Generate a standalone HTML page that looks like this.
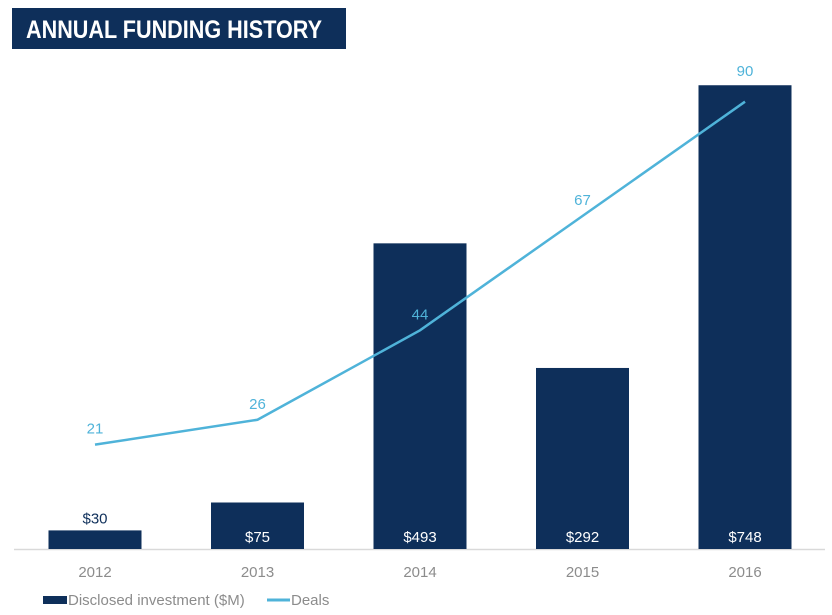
<!DOCTYPE html>
<html><head><meta charset="utf-8"><style>
body{margin:0;background:#fff;width:832px;height:610px;overflow:hidden;font-family:"Liberation Sans",sans-serif}
</style></head><body>
<svg width="832" height="610">
<rect x="12" y="8" width="334" height="41" fill="#0e2f5a"/>
<text x="26" y="38" fill="#fff" font-size="25" font-weight="bold" textLength="296" lengthAdjust="spacingAndGlyphs">ANNUAL FUNDING HISTORY</text>
<line x1="14" y1="549.5" x2="825" y2="549.5" stroke="#d9d9d9" stroke-width="1.5"/>
<g id="bars"></g><g id="line"></g><g id="labels"></g>
<rect x="43" y="596" width="24" height="8" fill="#0e2f5a"/>
<text x="68" y="605" font-size="15" fill="#8c8c8c">Disclosed investment ($M)</text>
<line x1="267" y1="600" x2="290" y2="600" stroke="#4fb3d9" stroke-width="3"/>
<text x="291" y="605" font-size="15" fill="#8c8c8c">Deals</text>
</svg>
<script>
const years=["2012","2013","2014","2015","2016"];
const investment=[30,75,493,292,748];
const deals=[21,26,44,67,90];
const NS="http://www.w3.org/2000/svg";
const base=549, x0=95, step=162.5;
const xPos=i=>x0+i*step;
const yBar=v=>base-v*0.62;
const yLine=v=>base-v*4.97;
function mk(t,a,p){const e=document.createElementNS(NS,t);for(const k in a)e.setAttribute(k,a[k]);p.appendChild(e);return e;}
const gb=document.getElementById('bars'),gl=document.getElementById('line'),gt=document.getElementById('labels');
investment.forEach((v,i)=>{
 const r=mk('rect',{x:xPos(i)-46.5,y:yBar(v),width:93,height:base-yBar(v),fill:'#0e2f5a'},gb);
 
 
 const inside=(base-yBar(v))>30;
 const t=mk('text',{x:xPos(i),y:inside?base-7:yBar(v)-7,'text-anchor':'middle','font-size':15,fill:inside?'#fff':'#0e2f5a'},gt);
 t.textContent='$'+v;
 
 
 const yl=mk('text',{x:xPos(i),y:577,'text-anchor':'middle','font-size':15,fill:'#8c8c8c'},gt);
 yl.textContent=years[i];
 
 
});
const pl=mk('polyline',{points:deals.map((v,i)=>xPos(i)+','+yLine(v)).join(' '),fill:'none',stroke:'#4fb3d9','stroke-width':2.5},gl);


deals.forEach((v,i)=>{
 let ly=yLine(v)-11;
 const barTop=yBar(investment[i]);
 if(ly>barTop-25 && ly<barTop+25) ly=barTop-9;
 const t=mk('text',{x:xPos(i),y:ly,'text-anchor':'middle','font-size':15,fill:'#4fb3d9'},gt);
 t.textContent=v;
 
 
});
</script>
</body></html>
